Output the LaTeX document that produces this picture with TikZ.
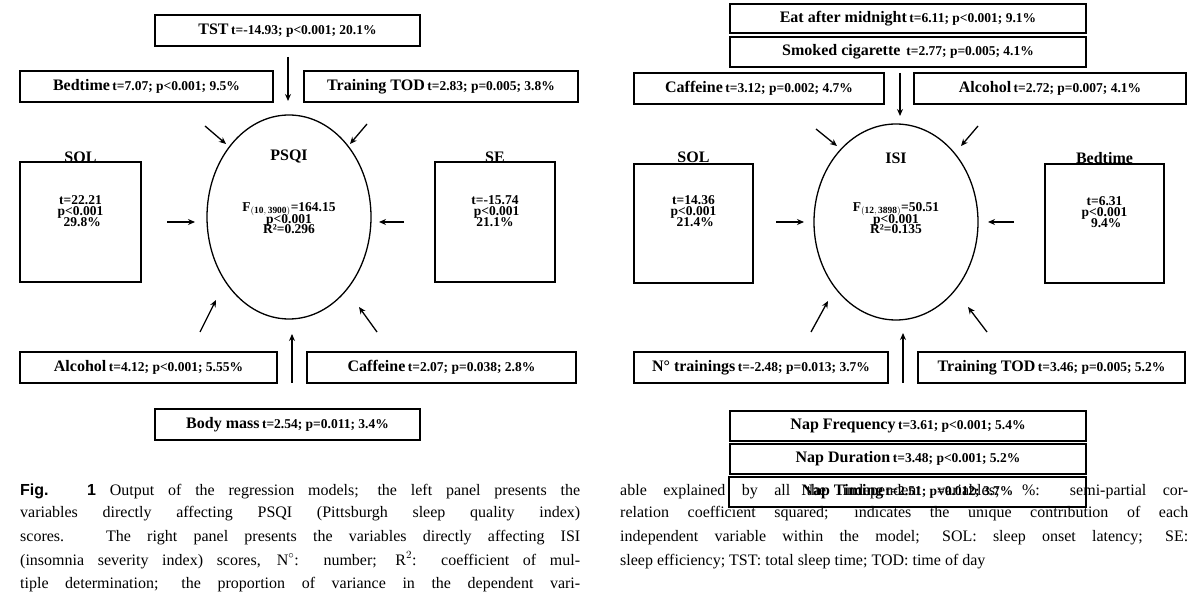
\documentclass[tikz,border=0pt]{standalone}
\usepackage{fontspec}
\setmainfont{Liberation Serif}
\newfontfamily\capsans{Liberation Sans}
\usetikzlibrary{arrows.meta,shapes.geometric}
\newcommand{\nm}[1]{{\fontsize{16}{18}\selectfont\bfseries #1}}
\newcommand{\st}[1]{{\fontsize{13.5}{16}\selectfont\bfseries #1}}
\begin{document}
\begin{tikzpicture}[x=1pt,y=-1pt,
  box/.style={draw,line width=1.3pt,inner sep=0pt},
  arr/.style={line width=1.3pt,-{Stealth[length=7pt,width=6pt]}},
  txt/.style={inner sep=0pt,font=\bfseries},
  captxt/.style={anchor=base west,inner sep=0pt,font=\fontsize{16}{20}\selectfont}]
\useasboundingbox (0,0) rectangle (1200,601);
% ---------- left panel ----------
\node[box,minimum width=265pt,minimum height=31pt] (tst) at (287.5,30.5) {\nm{TST} \st{t=-14.93; p<0.001; 20.1\%}};
\node[box,minimum width=253pt,minimum height=31pt] (bed) at (146.5,86.5) {\nm{Bedtime} \st{t=7.07; p<0.001; 9.5\%}};
\node[box,minimum width=274pt,minimum height=31pt] (ttod) at (441,86.5) {\nm{Training TOD} \st{t=2.83; p=0.005; 3.8\%}};
\node[box,minimum width=121pt,minimum height=120pt] (sol) at (80.5,222) {};
\node[txt] (solt) at (80.5,157) {\nm{SOL}};
\node[txt,align=center] (sols) at (80.5,211) {\st{t=22.21}\\[-1pt]\st{p<0.001}\\[-1pt]\st{\ 29.8\%}};
\node[box,minimum width=120pt,minimum height=120pt] (se) at (495,222) {};
\node[txt] (set) at (495,157) {\nm{SE}};
\node[txt,align=center] (ses) at (495,211) {\st{t=-15.74}\\[-1pt]\st{\ p<0.001}\\[-1pt]\st{21.1\%}};
\node[box,ellipse,minimum width=164pt,minimum height=204pt] (psqi) at (289,217) {};
\node[txt] (psqit) at (289,157) {\nm{PSQI}};
\node[txt,align=center] (psqis) at (289,218) {\st{F$_{\mathbf{(10,\,3900)}}$=164.15}\\[-2pt]\st{p<0.001}\\[-2pt]\st{R²=0.296}};
\node[box,minimum width=257pt,minimum height=31pt] (alc) at (148.5,367.5) {\nm{Alcohol} \st{t=4.12; p<0.001; 5.55\%}};
\node[box,minimum width=269pt,minimum height=31pt] (caf) at (441.5,367.5) {\nm{Caffeine} \st{t=2.07; p=0.038; 2.8\%}};
\node[box,minimum width=265pt,minimum height=31pt] (bm) at (287.5,424.5) {\nm{Body mass} \st{t=2.54; p=0.011; 3.4\%}};
\coordinate (a1) at (288,57); \coordinate (b1) at (288,101);
\coordinate (a2) at (205,126); \coordinate (b2) at (226,144);
\coordinate (a3) at (367,124); \coordinate (b3) at (350,144);
\coordinate (a4) at (167,222); \coordinate (b4) at (195,222);
\coordinate (a5) at (404,222); \coordinate (b5) at (379,222);
\coordinate (a6) at (200,332); \coordinate (b6) at (216,300);
\coordinate (a7) at (377,332); \coordinate (b7) at (359,307);
\coordinate (a8) at (292,383); \coordinate (b8) at (292,334);
\foreach \i in {1,...,8} \draw[arr] (a\i) -- (b\i);
% ---------- right panel ----------
\node[box,minimum width=356pt,minimum height=29pt] (eat) at (908,18.5) {\nm{Eat after midnight} \st{t=6.11; p<0.001; 9.1\%}};
\node[box,minimum width=356pt,minimum height=30pt] (smk) at (908,52) {\nm{Smoked cigarette} \st{\ t=2.77; p=0.005; 4.1\%}};
\node[box,minimum width=250pt,minimum height=31pt] (caf2) at (759,88.5) {\nm{Caffeine} \st{t=3.12; p=0.002; 4.7\%}};
\node[box,minimum width=272pt,minimum height=31pt] (alc2) at (1050,88.5) {\nm{Alcohol} \st{t=2.72; p=0.007; 4.1\%}};
\node[box,minimum width=119pt,minimum height=119pt] (sol2) at (693.5,223.5) {};
\node[txt] (sol2t) at (693.5,157) {\nm{SOL}};
\node[txt,align=center] (sol2s) at (693.5,211) {\st{t=14.36}\\[-1pt]\st{p<0.001}\\[-1pt]\st{\ 21.4\%}};
\node[box,minimum width=119pt,minimum height=119pt] (bed2) at (1104.5,223.5) {};
\node[txt] (bed2t) at (1104.5,158) {\nm{Bedtime}};
\node[txt,align=center] (bed2s) at (1104.5,212) {\st{t=6.31}\\[-1pt]\st{p<0.001}\\[-1pt]\st{\ 9.4\%}};
\node[box,ellipse,minimum width=164pt,minimum height=196pt] (isi) at (896,222) {};
\node[txt] (isit) at (896,158) {\nm{ISI}};
\node[txt,align=center] (isis) at (896,218) {\st{F$_{\mathbf{(12,\,3898)}}$=50.51}\\[-2pt]\st{p<0.001}\\[-2pt]\st{R²=0.135}};
\node[box,minimum width=254pt,minimum height=31pt] (ntr) at (761,367.5) {\nm{N° trainings} \st{t=-2.48; p=0.013; 3.7\%}};
\node[box,minimum width=267pt,minimum height=31pt] (ttod2) at (1051.5,367.5) {\nm{Training TOD} \st{t=3.46; p=0.005; 5.2\%}};
\node[box,minimum width=356pt,minimum height=30pt] (nf) at (908,426) {\nm{Nap Frequency} \st{t=3.61; p<0.001; 5.4\%}};
\node[box,minimum width=356pt,minimum height=30pt] (nd) at (908,459) {\nm{Nap Duration} \st{t=3.48; p<0.001; 5.2\%}};
\node[box,minimum width=357pt,minimum height=30pt] (nt) at (907.5,492) {\nm{Nap Timing} \st{t=2.51; p=0.012; 3.7\%}};
\coordinate (c1) at (900,73); \coordinate (d1) at (900,116);
\coordinate (c2) at (816,129); \coordinate (d2) at (837,146);
\coordinate (c3) at (978,126); \coordinate (d3) at (961,146);
\coordinate (c4) at (776,222); \coordinate (d4) at (804,222);
\coordinate (c5) at (1014,222); \coordinate (d5) at (988,222);
\coordinate (c6) at (811,332); \coordinate (d6) at (828,301);
\coordinate (c7) at (987,332); \coordinate (d7) at (968,307);
\coordinate (c8) at (903,383); \coordinate (d8) at (903,333);
\foreach \i in {1,...,8} \draw[arr] (c\i) -- (d\i);
% ---------- caption ----------
\node[captxt] (l1) at (20,496) {\makebox[560pt][s]{{\capsans\bfseries Fig. 1} Output of the regression models; the left panel presents the}};
\node[captxt] (l2) at (20,518) {\makebox[560pt][s]{variables directly affecting PSQI (Pittsburgh sleep quality index)}};
\node[captxt] (l3) at (20,541) {\makebox[560pt][s]{scores. The right panel presents the variables directly affecting ISI}};
\node[captxt] (l4) at (20,565) {\makebox[560pt][s]{(insomnia severity index) scores, N$^{\circ}$: number; R$^{2}$: coefficient of mul-}};
\node[captxt] (l5) at (20,588) {\makebox[560pt][s]{tiple determination; the proportion of variance in the dependent vari-}};
\node[captxt] (r1) at (620,496) {\makebox[568pt][s]{able explained by all the independent variables; \%: semi-partial cor-}};
\node[captxt] (r2) at (620,518) {\makebox[568pt][s]{relation coefficient squared; indicates the unique contribution of each}};
\node[captxt] (r3) at (620,541) {\makebox[568pt][s]{independent variable within the model; SOL: sleep onset latency; SE:}};
\node[captxt] (r4) at (620,565) {sleep efficiency; TST: total sleep time; TOD: time of day};
\end{tikzpicture}
\end{document}
